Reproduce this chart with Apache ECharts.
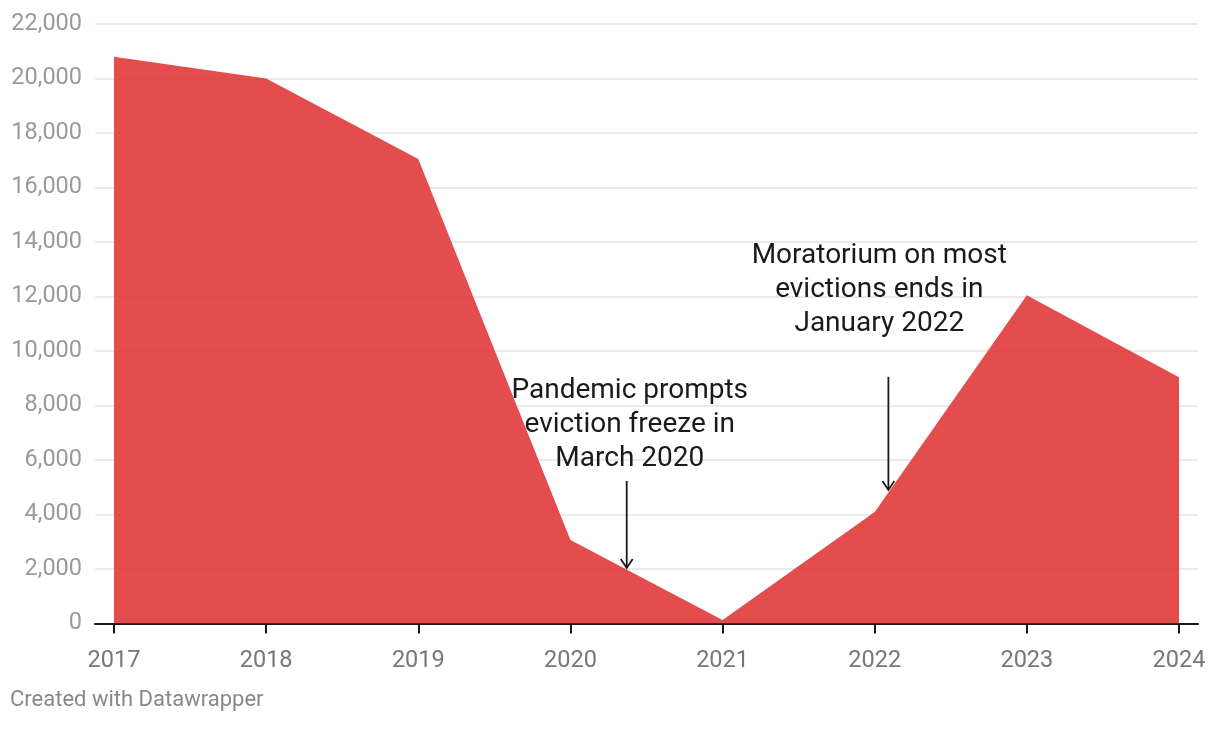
<!DOCTYPE html>
<html>
<head>
<meta charset="utf-8">
<script src="https://cdn.jsdelivr.net/npm/echarts@6/dist/echarts.min.js"></script>
<style>
html,body{margin:0;padding:0;background:#fff;}
#chart{width:1220px;height:750px;}
</style>
</head>
<body>
<div id="chart"></div>
<script>
const years = [2017, 2018, 2019, 2020, 2021, 2022, 2023, 2024];
const evictions = [20800, 20000, 17050, 3060, 130, 4090, 12050, 9040];
const yTicks = [0, 2000, 4000, 6000, 8000, 10000, 12000, 14000, 16000, 18000, 20000, 22000];
const annotationTexts = [
  'Pandemic prompts\neviction freeze in\nMarch 2020',
  'Moratorium on most\nevictions ends in\nJanuary 2022'
];
// arrows: [x, yStart, yEnd] in data units
const arrows = [
  [2020.37, 5230, 2040],
  [2022.09, 9050, 4900]
];
// text anchors: [x, y] (middle of text block) in data units
const textAnchors = [
  [2020.39, 7280],
  [2022.03, 12240]
];
const footer = 'Created with Datawrapper';

const chart = echarts.init(document.getElementById('chart'));
const font = 'Roboto, "Noto Sans", sans-serif';

chart.setOption({
  animation: false,
  backgroundColor: '#fff',
  grid: { left: 95, right: 22, top: 24, bottom: 126.5, containLabel: false },
  xAxis: {
    type: 'value',
    min: 2016.875,
    max: 2024.125,
    splitLine: { show: false },
    axisLine: { show: true, onZero: false, lineStyle: { color: '#1a1a1a', width: 2 } },
    axisTick: { show: true, customValues: years, length: 10, lineStyle: { color: '#1a1a1a', width: 2 } },
    axisLabel: {
      customValues: years,
      formatter: v => String(Math.round(v)),
      color: '#777', fontSize: 23.5, fontFamily: font, margin: 26
    }
  },
  yAxis: {
    type: 'value',
    min: 0,
    max: 22000,
    interval: 2000,
    axisLine: { show: false },
    axisTick: { show: false },
    splitLine: { show: true, lineStyle: { color: '#e3e3e3', width: 1.5 } },
    axisLabel: {
      customValues: yTicks,
      formatter: v => v.toLocaleString('en-US'),
      color: '#9a9a9a', fontSize: 23.5, fontFamily: font, margin: 13
    }
  },
  graphic: [{
    type: 'text', left: 10, top: 689,
    style: { text: footer, fill: '#888', fontSize: 22, fontFamily: font }
  }],
  series: [
    {
      type: 'line',
      data: years.map((y, i) => [y, evictions[i]]),
      symbol: 'none',
      lineStyle: { width: 0 },
      areaStyle: { color: '#e03a3a', opacity: 0.9 },
      z: 2
    },
    {
      type: 'custom',
      data: arrows,
      z: 5,
      renderItem: (params, api) => {
        const p1 = api.coord([api.value(0), api.value(1)]);
        const p2 = api.coord([api.value(0), api.value(2)]);
        const hw = 6, hh = 9;
        return {
          type: 'group',
          children: [
            { type: 'line', shape: { x1: p1[0], y1: p1[1], x2: p2[0], y2: p2[1] },
              style: { stroke: '#1a1a1a', lineWidth: 1.8 } },
            { type: 'polyline', shape: { points: [[p2[0] - hw, p2[1] - hh], [p2[0], p2[1]], [p2[0] + hw, p2[1] - hh]] },
              style: { stroke: '#1a1a1a', lineWidth: 1.8, fill: null } }
          ]
        };
      }
    },
    {
      type: 'custom',
      data: textAnchors.map((a, i) => [a[0], a[1], i]),
      z: 6,
      renderItem: (params, api) => {
        const p = api.coord([api.value(0), api.value(1)]);
        return {
          type: 'text',
          x: p[0], y: p[1],
          style: {
            text: annotationTexts[api.value(2)],
            align: 'center', verticalAlign: 'middle',
            fontSize: 28, lineHeight: 34, fontFamily: font, fill: '#1a1a1a'
          }
        };
      }
    }
  ]
});
</script>
</body>
</html>
